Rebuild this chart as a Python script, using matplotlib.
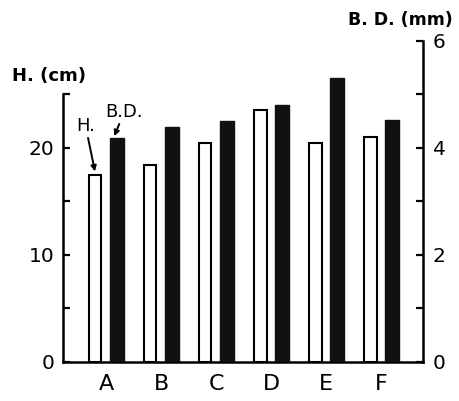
import matplotlib
matplotlib.use("Agg")
import matplotlib.pyplot as plt
import numpy as np

categories = ["A", "B", "C", "D", "E", "F"]
height_cm = [17.5, 18.4, 20.5, 23.5, 20.5, 21.0]
bd_mm = [4.18, 4.4, 4.5, 4.8, 5.3, 4.52]

plt.rcParams['font.family'] = ['DejaVu Sans']
fig = plt.figure(figsize=(4.6, 4.01), dpi=100)
ax = fig.add_axes([0.137, 0.0973, 0.783, 0.8007])
ax2 = ax.twinx()

x = np.arange(len(categories))
w = 0.23
ax.bar(x - 0.2, height_cm, width=w, facecolor='white', edgecolor='black', linewidth=1.5, zorder=3)
ax2.bar(x + 0.2, bd_mm, width=w + 0.02, facecolor='#111111', edgecolor='#111111', linewidth=1.0, zorder=3)

ax.set_xlim(-0.78, 5.76)
ax.set_ylim(0, 30)
ax2.set_ylim(0, 6)

for a in (ax, ax2):
    a.spines['top'].set_visible(False)
    a.patch.set_visible(False)
ax.spines['right'].set_visible(False)
ax2.spines['left'].set_visible(False)
ax2.spines['bottom'].set_visible(False)
ax.spines['left'].set_bounds(0, 25)
ax2.spines['right'].set_bounds(0, 6)
for s in ('left', 'bottom'):
    ax.spines[s].set_linewidth(1.8)
ax2.spines['right'].set_linewidth(1.8)

ax.set_yticks([0, 10, 20])
ax.set_yticks([5, 15, 25], minor=True)
ax.tick_params(axis='y', which='both', direction='in', length=5, width=1.6, labelsize=14.5, pad=6)
ax.tick_params(axis='y', which='minor', labelleft=False)
ax2.set_yticks([0, 2, 4, 6])
ax2.set_yticks([1, 3, 5], minor=True)
ax2.tick_params(axis='y', which='both', direction='in', length=5, width=1.6, labelsize=14.5, pad=7)

ax.set_xticks(x)
ax.set_xticklabels(categories, fontsize=16)
ax.tick_params(axis='x', length=0, pad=9)

fig.text(0.025, 0.81, "H. (cm)", fontsize=13, fontweight='bold', ha='left', va='center')
fig.text(0.985, 0.95, "B. D. (mm)", fontsize=12.5, fontweight='bold', ha='right', va='center')

ax.annotate("H.", xy=(x[0] - 0.2, height_cm[0] + 0.3), xytext=(-0.37, 21.2),
            fontsize=13, ha='center', va='bottom',
            arrowprops=dict(arrowstyle='-|>', color='black', lw=1.4, mutation_scale=8,
                            shrinkA=0, shrinkB=0))
ax2.annotate("B.D.", xy=(x[0] + 0.15, bd_mm[0] + 0.04), xytext=(0.33, 4.5),
             fontsize=13, ha='center', va='bottom',
             arrowprops=dict(arrowstyle='-|>', color='black', lw=1.4, mutation_scale=8,
                             shrinkA=0, shrinkB=0))

fig.savefig("out.png", dpi=100)
